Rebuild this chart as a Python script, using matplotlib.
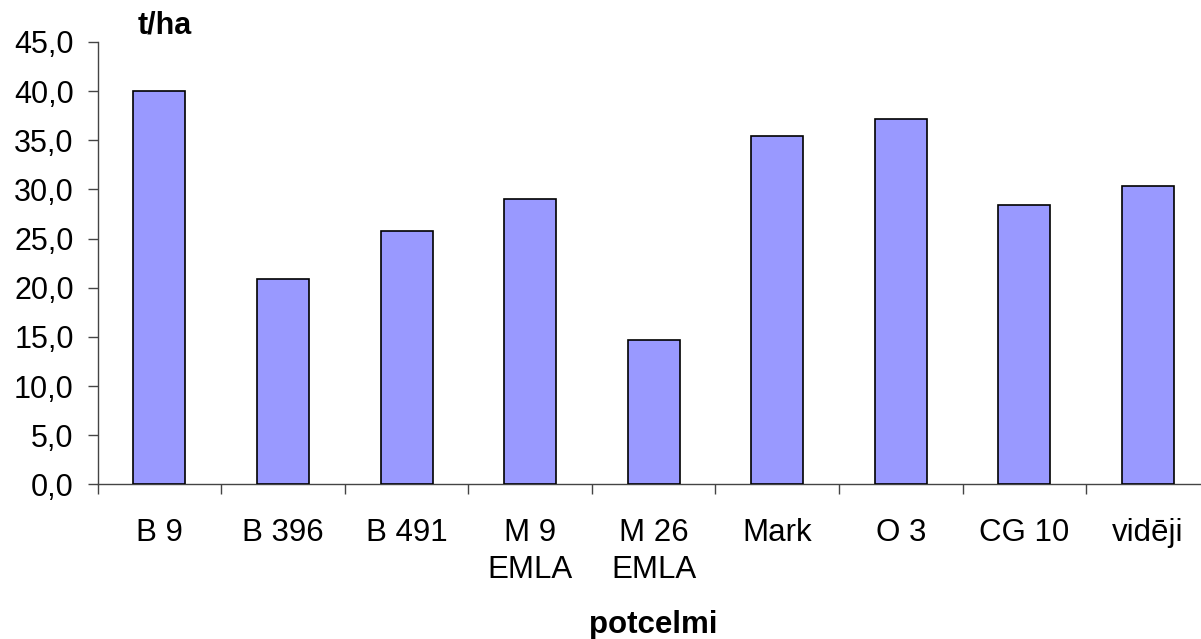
import matplotlib
matplotlib.use("Agg")
from matplotlib import pyplot as plt
import numpy as np

plt.rcParams['font.family'] = ['Liberation Sans', 'DejaVu Sans']

# ražība pa potcelmiem
potcelmi = ["B 9", "B 396", "B 491", "M 9\nEMLA", "M 26\nEMLA", "Mark", "O 3", "CG 10", "vidēji"]
raza = [40.0, 20.9, 25.8, 29.0, 14.7, 35.4, 37.2, 28.4, 30.3]
y_ticks = [0, 5, 10, 15, 20, 25, 30, 35, 40, 45]

fig = plt.figure(figsize=(12.01, 6.39), dpi=100)
ax = fig.add_axes([0.0813, 0.2421, 0.926, 0.6922])

x = np.arange(len(potcelmi))
ax.bar(x, raza, width=0.42, color="#9999FF", edgecolor="black", linewidth=1.2, zorder=3)

ax.set_xlim(-0.5, len(potcelmi) - 0.5)
ax.set_ylim(0, 45)

ax.set_yticks(y_ticks)
ax.yaxis.set_major_formatter(plt.FuncFormatter(lambda v, p: ("%.1f" % v).replace(".", ",")))

# atzīmes starp kategorijām, nosaukumi centrā
ax.set_xticks(np.arange(len(potcelmi) + 1) - 0.5)
ax.set_xticklabels([])
ax.set_xticks(x, minor=True)
ax.set_xticklabels(potcelmi, minor=True, linespacing=1.3)

ax.tick_params(axis="y", which="major", length=7.2, width=1, color="#444444",
               labelsize=22, pad=10)
ax.tick_params(axis="x", which="major", length=7.2, width=1, color="#444444")
ax.tick_params(axis="x", which="minor", length=0, labelsize=22.5, pad=24)

for s in ["top", "right"]:
    ax.spines[s].set_visible(False)
for s in ["left", "bottom"]:
    ax.spines[s].set_color("#444444")
    ax.spines[s].set_linewidth(1)

ax.set_xlabel("potcelmi", fontsize=22.5, fontweight="bold", labelpad=18)
fig.text(0.115, 0.937, "t/ha", fontsize=22, fontweight="bold", ha="left", va="bottom")

fig.savefig("out.png", dpi=100)
